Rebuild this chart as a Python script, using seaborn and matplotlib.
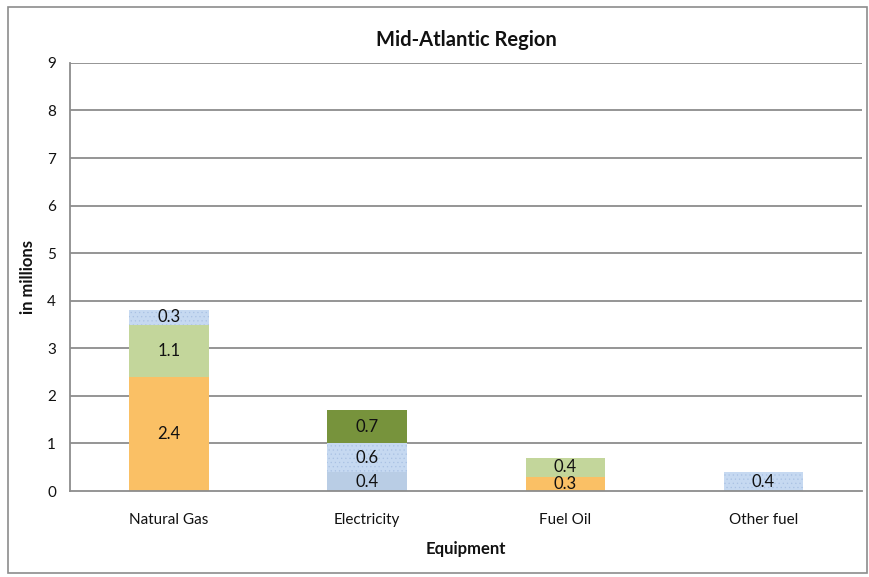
import numpy as np
import pandas as pd
import matplotlib
matplotlib.use("Agg")
import matplotlib.pyplot as plt
import seaborn as sns
from matplotlib.patches import Rectangle

# data
categories = ["Natural Gas", "Electricity", "Fuel Oil", "Other fuel"]
orange_vals = [2.4, 0.0, 0.3, 0.0]
lightgreen_vals = [1.1, 0.0, 0.4, 0.0]
blue_vals = [0.0, 0.4, 0.0, 0.0]
dotted_vals = [0.3, 0.6, 0.0, 0.4]
darkgreen_vals = [0.0, 0.7, 0.0, 0.0]

series = [
    (orange_vals, "#FAC065", None),
    (lightgreen_vals, "#C3D69B", None),
    (blue_vals, "#B9CDE5", None),
    (dotted_vals, "#C6D9F1", "...."),
    (darkgreen_vals, "#77933C", None),
]

sns.set_style("white")
plt.rcParams["font.family"] = ["Lato", "DejaVu Sans"]
plt.rcParams["hatch.linewidth"] = 0.4

fig = plt.figure(figsize=(8.7, 5.77), dpi=100)
ax = fig.add_axes([0.0805, 0.149, 0.9105, 0.742])

grid_col = "#8C8C8C"
txt_col = "#111111"
for y in range(1, 10):
    ax.axhline(y, color=grid_col, linewidth=1.3, zorder=0)

bottom = np.zeros(len(categories))
for vals, col, hatch in series:
    df = pd.DataFrame({"Equipment": categories, "value": vals})
    sns.barplot(data=df, x="Equipment", y="value", order=categories,
                color=col, saturation=1, width=0.4, errorbar=None,
                bottom=bottom.copy(), hatch=hatch,
                edgecolor="#A9C1E3" if hatch else col, linewidth=0,
                ax=ax, zorder=2)
    for i, v in enumerate(vals):
        if v > 0:
            ax.text(i, bottom[i] + v / 2, f"{v:.1f}", ha="center", va="center",
                    fontsize=12, color=txt_col, zorder=3)
    bottom += np.array(vals)

ax.set_ylim(0, 9)
ax.set_xlim(-0.5, 3.5)
ax.set_yticks(range(0, 10))
ax.set_xticks(np.arange(-0.5, 4, 1), minor=True)
ax.tick_params(axis="x", which="major", length=0, labelsize=11, pad=16)
ax.tick_params(axis="x", which="minor", length=5, color=grid_col, width=1.3, direction="out")
ax.tick_params(axis="y", length=5, color=grid_col, width=1.3, direction="out",
               labelsize=11, pad=5)
ax.set_xticklabels(categories, color=txt_col)
for lab in ax.get_yticklabels():
    lab.set_color(txt_col)

for s in ["top", "right"]:
    ax.spines[s].set_visible(False)
for s in ["left", "bottom"]:
    ax.spines[s].set_color(grid_col)
    ax.spines[s].set_linewidth(1.3)

ax.set_xlabel("Equipment", fontsize=12, fontweight="bold", color=txt_col, labelpad=10)
ax.set_ylabel("in millions", fontsize=12, fontweight="bold", color=txt_col, labelpad=8)
ax.set_title("Mid-Atlantic Region", fontsize=14.5, fontweight="bold", color=txt_col, pad=12)

fig.patches.append(Rectangle((0.009, 0.007), 0.987, 0.981, transform=fig.transFigure,
                             fill=False, edgecolor="#8C8C8C", linewidth=1.2))

fig.savefig("out.png", dpi=100)
